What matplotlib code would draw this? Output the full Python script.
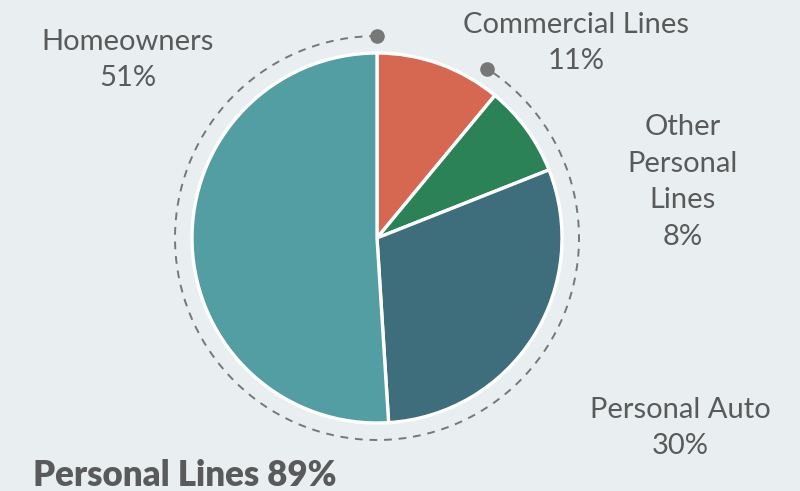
import numpy as np
import matplotlib.pyplot as plt
from matplotlib.patches import Arc

# Segment shares (percent), clockwise from 12 o'clock
segments = ["Commercial Lines", "Other Personal Lines", "Personal Auto", "Homeowners"]
shares = [11, 8, 30, 51]
colors = ["#d66852", "#2b8257", "#3e6d7b", "#529ea3"]
label_text = ["Commercial Lines\n11%", "Other\nPersonal\nLines\n8%",
              "Personal Auto\n30%", "Homeowners\n51%"]
personal_lines_total = 89

W, H = 800, 491
bg = "#e9eff0"
txt = "#5a5a5a"

fig = plt.figure(figsize=(W / 100, H / 100), dpi=100, facecolor=bg)
ax = fig.add_axes([0, 0, 1, 1])
ax.set_facecolor(bg)

cx, cy, r = 377, H - 238, 185
ax.pie(shares, colors=colors, startangle=90, counterclock=False,
       center=(cx, cy), radius=r, frame=True,
       wedgeprops=dict(edgecolor="white", linewidth=2.4))
ax.set_xlim(0, W)
ax.set_ylim(0, H)
ax.set_aspect("equal")
ax.axis("off")

# Dashed bracket around the personal-lines segments
rd = 202
start_deg = 90 - 33   # just short of the commercial wedge edge
end_deg = 90
ax.add_patch(Arc((cx, cy), 2 * rd, 2 * rd, theta1=end_deg, theta2=start_deg + 360,
                 color="#777777", lw=1.4, ls=(0, (4, 3.5))))
for a in (start_deg, end_deg):
    t = np.deg2rad(a)
    ax.plot(cx + rd * np.cos(t), cy + rd * np.sin(t), "o", ms=10.5,
            color="#777777", mec="none")

font = "Lato"
fs = 21
positions = [(576, H - 43), (683, H - 182), (680, H - 428), (128, H - 60)]
for (x, y), s in zip(positions, label_text):
    ax.text(x, y, s, ha="center", va="center", fontsize=fs, color=txt,
            family=font, linespacing=1.5)

ax.text(33, H - 476, f"Personal Lines {personal_lines_total}%", ha="left",
        va="center", fontsize=25, fontweight="heavy", color=txt, family=font)

fig.savefig("out.png", dpi=100, facecolor=bg)
